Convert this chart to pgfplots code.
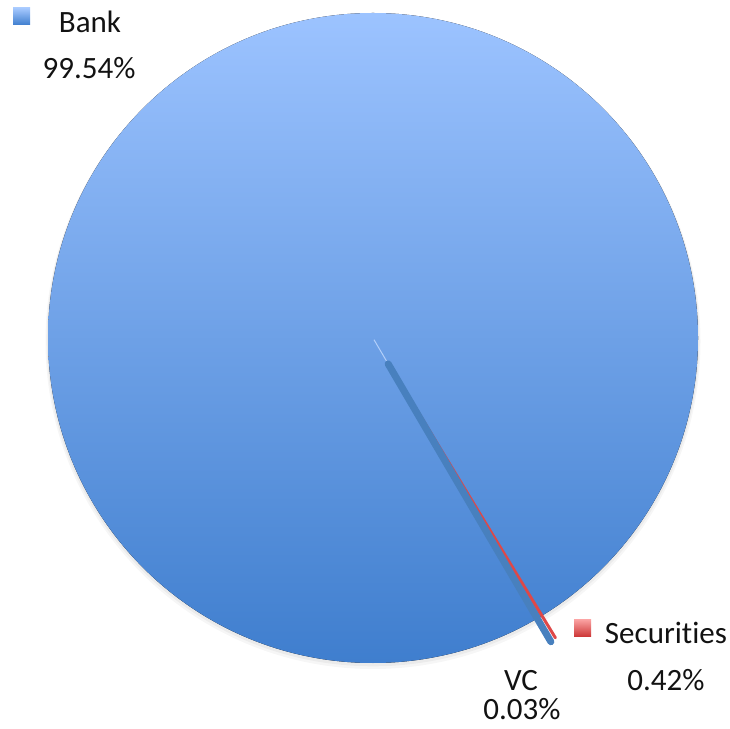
\documentclass[border=0pt]{standalone}
\usepackage{pgfplots}
\pgfplotsset{compat=1.18}
\usepackage{pgfplotstable}
\usepackage{fontspec}
\setmainfont{Carlito}[Ligatures={NoCommon,NoContextual}]
\definecolor{pietop}{RGB}{156,195,255}
\definecolor{piebot}{RGB}{63,126,206}
\definecolor{vcline}{RGB}{72,128,190}
\definecolor{secline}{RGB}{222,72,72}
\definecolor{sectop}{RGB}{252,165,165}
\definecolor{secbot}{RGB}{206,58,58}
\definecolor{txt}{RGB}{18,18,18}
\pgfplotstableread{
label value
Bank 99.54
Securities 0.42
VC 0.03
}\piedata
\pgfplotstablegetelem{0}{value}\of\piedata \let\vBank\pgfplotsretval
\pgfplotstablegetelem{1}{value}\of\piedata \let\vSec\pgfplotsretval
\pgfplotstablegetelem{2}{value}\of\piedata \let\vVC\pgfplotsretval
% pie geometry (image units = pt)
\def\cx{373}\def\cy{390}\def\R{325}\def\ex{30}
\pgfmathsetmacro\A{-59.7}            % start of Bank's clockwise sweep
\pgfmathsetmacro\aVC{\A+1.8*\vVC}     % middle of VC slice
\pgfmathsetmacro\aSec{\A+3.6*\vVC+1.8*\vSec+0.15} % middle of Securities slice
\pgfmathsetmacro\vcxa{\cx+\ex*cos(\aVC)}\pgfmathsetmacro\vcya{\cy+\ex*sin(\aVC)}
\pgfmathsetmacro\vcxb{\cx+(\R+\ex-3)*cos(\aVC)}\pgfmathsetmacro\vcyb{\cy+(\R+\ex-3)*sin(\aVC)}
\pgfmathsetmacro\sxa{\cx+\ex*cos(\aSec)}\pgfmathsetmacro\sya{\cy+\ex*sin(\aSec)}
\pgfmathsetmacro\sxb{\cx+(\R+\ex-4)*cos(\aSec)}\pgfmathsetmacro\syb{\cy+(\R+\ex-4)*sin(\aSec)}
\pgfmathsetmacro\fxa{\cx+2*cos(\aVC)}\pgfmathsetmacro\fya{\cy+2*sin(\aVC)}
\newcommand\lbl{\fontsize{31}{36}\selectfont}
\begin{document}
\begin{tikzpicture}
\begin{axis}[x=1pt,y=1pt,xmin=0,xmax=730,ymin=0,ymax=728,
  scale only axis,hide axis,clip=false]
% soft shadow
\fill[black,opacity=0.035] (axis cs:373,386.5) circle[radius=327.5pt];
\fill[black,opacity=0.045] (axis cs:373,388) circle[radius=326.3pt];
% Bank slice (nearly the whole disc)
\fill[top color=pietop,bottom color=piebot] (axis cs:\cx,\cy) circle[radius=325pt];
% exploded thin slices
\addplot[draw=pietop!60!white,line width=1pt,opacity=0.8] coordinates {(\fxa,\fya) (\vcxa,\vcya)};
\addplot[secline,line width=3pt,line cap=round] coordinates {(\sxa,\sya) (\sxb,\syb)};
\addplot[vcline,line width=7pt,line cap=round] coordinates {(\vcxa,\vcya) (\vcxb,\vcyb)};
% labels
\fill[top color=pietop!90!white,bottom color=piebot] (axis cs:13,703) rectangle (axis cs:30,720);
\node[anchor=base,inner sep=0pt,text=txt,font=\lbl] at (axis cs:90,695) {Bank};
\node[anchor=base,inner sep=0pt,text=txt,font=\lbl] at (axis cs:89,649) {\vBank\%};
\fill[top color=sectop,bottom color=secbot] (axis cs:574,92) rectangle (axis cs:591,109);
\node[anchor=base,inner sep=0pt,text=txt,font=\lbl] at (axis cs:666,85) {Securities};
\node[anchor=base,inner sep=0pt,text=txt,font=\lbl] at (axis cs:666,38) {\vSec\%};
\node[anchor=base,inner sep=0pt,text=txt,font=\lbl] at (axis cs:521,38) {VC};
\node[anchor=base,inner sep=0pt,text=txt,font=\lbl] at (axis cs:522,9) {\vVC\%};
\end{axis}
\pgfresetboundingbox
\path[use as bounding box] (current axis.south west) rectangle (current axis.north east);
\end{tikzpicture}
\end{document}
